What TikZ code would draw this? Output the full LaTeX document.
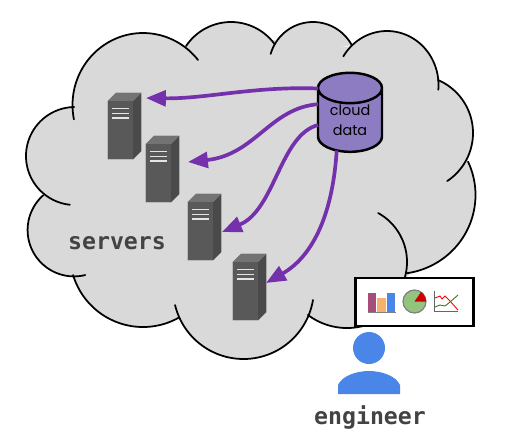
\documentclass[tikz,border=0pt]{standalone}
\usepackage{fontspec}
\setmainfont{Poppins}
\setmonofont{DejaVu Sans Mono}
\usetikzlibrary{positioning,shapes.geometric,arrows.meta}
\definecolor{cloudgray}{HTML}{D9D9D9}
\definecolor{flowpurple}{HTML}{7431AB}
\definecolor{drumpurple}{HTML}{8E7CC3}
\definecolor{personblue}{HTML}{4A86E8}
\definecolor{darktext}{HTML}{434343}
\definecolor{barplum}{HTML}{A64D79}
\definecolor{barorange}{HTML}{F6B26B}
\definecolor{piegreen}{HTML}{93C47D}
\definecolor{piered}{HTML}{CC0000}
\definecolor{linegreen}{HTML}{38761D}
\tikzset{
  lobe/.style={line width=1pt,line cap=round,draw=black},
  flow/.style={-{Triangle[length=11.3pt,width=9pt]},line width=2.1pt,draw=flowpurple},
  caption/.style={font=\ttfamily\bfseries\fontsize{13.2}{15}\selectfont,text=darktext,inner sep=0pt},
  server/.pic={
    \fill[black!50] (-0.4,58.4) -- (25.3,58.4) -- (33.4,50.3) -- (33.4,-8.4) -- (8,-8.4) -- (-0.4,0) -- cycle;
    \fill[black!71] (25,0) -- (33,-8) -- (33,50) -- (25,58) -- cycle;
    \fill[black!55] (0,0) -- (8,-8) -- (33,-8) -- (25,0) -- cycle;
    \node[fill=black!65,minimum width=0.5cm,minimum height=1.16cm,inner sep=0pt,outer sep=0pt,anchor=north west] (-body) at (0,0) {};
    \foreach \ventY in {7.5,12.5,17} \fill[white!90!black] (4,\ventY-0.9) rectangle (21,\ventY+0.9);
  }
}
\newcommand{\lobefill}[6]{\fill[cloudgray] plot[domain=#5:#6,samples=60,variable=\t] ({#1+#3*cos(\t)},{#2+#4*sin(\t)}) -- cycle;}
\newcommand{\lobeline}[6]{\draw[lobe] plot[domain=#5:#6,samples=60,variable=\t] ({#1+#3*cos(\t)},{#2+#4*sin(\t)});}
\newcommand{\alllobes}[1]{%
  #1{143}{105}{70.5}{72}{168.5}{321.3}
  #1{231}{76}{54}{54}{213.7}{324}
  #1{313}{66}{44}{44}{196}{332}
  #1{387}{85}{51.5}{54}{212}{365}
  #1{415.4}{133}{57.6}{57.6}{-67}{56.5}
  #1{395.5}{195}{80}{79}{-25}{82}
  #1{351}{262}{56}{56}{-61}{16}
  #1{347}{263}{65}{65}{74}{127}
  #1{243.5}{288.6}{70.4}{70.4}{9.3}{166.5}
  #1{143}{254}{73}{73}{60.7}{163.3}
  #1{74}{230}{46.4}{46.4}{76}{228.5}
  #1{75}{156}{49}{49}{96}{269}
}
\begin{document}
\begin{tikzpicture}[x=0.02cm,y=-0.02cm]
  \useasboundingbox (0,0) rectangle (513,441);
  % cloud
  \alllobes{\lobefill}
  \fill[cloudgray] (74,108) -- (192,42) -- (272,40) -- (350,47) -- (438,85) -- (470,170) -- (412,272) -- (355,325) -- (308,315) -- (180,320) -- (73,275) -- (43,195) -- cycle;
  \alllobes{\lobeline}
  % servers
  \pic (srvA) at (108,101) {server};
  \pic (srvB) at (146,144) {server};
  \pic (srvC) at (188,202) {server};
  \pic (srvD) at (233,262) {server};
  \coordinate (tipA) at (146,98);
  \coordinate (tipB) at (188,162);
  \coordinate (tipC) at (222,232);
  \coordinate (tipD) at (266,283);
  \node[cylinder,shape border rotate=90,aspect=0.75,draw=black,line width=1.4pt,fill=drumpurple,minimum width=1.28cm,minimum height=1.58cm,inner sep=0pt,outer sep=0pt,align=center,font=\fontsize{8.2}{11.3}\selectfont] (clouddata) at (350,120.5) {cloud\\data};
  \draw[flow] (clouddata.135) .. controls (255,86) and (205,99) .. (tipA);
  \draw[flow] (clouddata.153) .. controls (270,108) and (255,155) .. (tipB);
  \draw[flow] (clouddata.188) .. controls (280,135) and (275,210) .. (tipC);
  \draw[flow] (clouddata.246) .. controls (333,210) and (315,255) .. (tipD);
  \node[caption] (serverslabel) at (117,243) {servers};
  % engineer
  \node[draw=black,fill=white,line width=1.2pt,minimum width=2.36cm,minimum height=0.96cm,inner sep=0pt] (chartbox) at (414.5,302) {};
  \fill[black!50] (368,311.5) rectangle (396,312.5);
  \fill[barplum] (368,293) rectangle (376,312);
  \fill[barorange] (377,298) rectangle (386,312);
  \fill[personblue] (387,293) rectangle (395,312);
  \node[circle,draw=black!50,line width=0.7pt,fill=piegreen,minimum size=0.46cm,inner sep=0pt] (pie) at (414.5,301.5) {};
  \fill[piered] (pie.center) -- (421,292) .. controls (424,294) and (426,298) .. (426,301.5) -- cycle;
  \draw[black!60,line width=0.5pt] (434,291) -- (434,311) -- (458,311);
  \draw[red,line width=0.5pt] (435,298) -- (440,296) -- (442,299) -- (445,296) -- (450,301) -- (458,310);
  \draw[linegreen,line width=0.5pt] (435,307) -- (440,305) -- (445,306) -- (450,302) -- (458,295);
  \node[circle,fill=personblue,minimum size=0.64cm,inner sep=0pt] (head) at (369,348) {};
  \fill[personblue] (338,394) -- (338,385) .. controls (342,376) and (356,371) .. (369,371) .. controls (382,371) and (396,376) .. (400,385) -- (400,394) -- cycle;
  \node[caption] (engineerlabel) at (370,417) {engineer};
\end{tikzpicture}
\end{document}
